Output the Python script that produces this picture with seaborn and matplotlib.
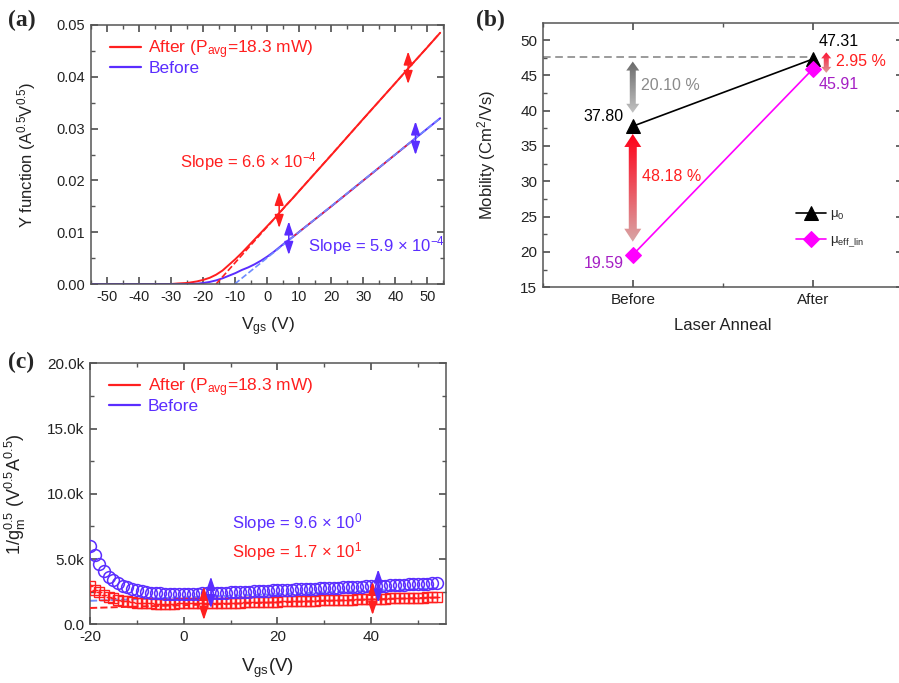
import matplotlib
matplotlib.use("Agg")
import numpy as np
import pandas as pd
import matplotlib.pyplot as plt
import seaborn as sns
from matplotlib.patches import Polygon
from matplotlib.lines import Line2D
from matplotlib.colors import to_rgba
from matplotlib.ticker import MultipleLocator

# ---------------- data: panel (a) Y-function ----------------
vgs_a = [-55, -50, -45, -40, -35, -30, -28, -25, -22, -20, -18, -16, -14, -12, -10,
         -8, -6, -4, -2, 0, 2, 4, 6, 8, 10, 20, 30, 40, 45, 50, 54]
yf_after = [0, 0, 0, 0, 0, 0, 0.0001, 0.0002, 0.0005, 0.0008, 0.0012, 0.0018, 0.0026,
            0.0037, 0.0048, 0.0060, 0.0073, 0.0086, 0.0099, 0.0112, 0.0125, 0.0139,
            0.0153, 0.0166, 0.0180, 0.0249, 0.0319, 0.0388, 0.0423, 0.0457, 0.0485]
yf_before = [0, 0, 0, 0, 0, 0, 0, 0, 0.00005, 0.0002, 0.0004, 0.0007, 0.0011, 0.0016,
             0.0021, 0.0027, 0.0032, 0.0038, 0.0045, 0.0053, 0.0062, 0.0072, 0.0082,
             0.0091, 0.0101, 0.0150, 0.0200, 0.0250, 0.0275, 0.0300, 0.0320]
fit_x_after = [-16, 54]
fit_y_after = [0.0, 0.0485]
fit_x_before = [-10.2, 54]
fit_y_before = [0.0, 0.0320]
slope_after_a = "Slope = 6.6 × 10$^{-4}$"
slope_before_a = "Slope = 5.9 × 10$^{-4}$"

# ---------------- data: panel (b) mobility ----------------
anneal = ["Before", "After"]
mu0 = [37.80, 47.31]
mu_eff = [19.59, 45.91]
pct_labels = ["20.10 %", "48.18 %", "2.95 %"]

# ---------------- data: panel (c) 1/gm^0.5 ----------------
vgs_c = list(range(-20, 55))
gm_before = [6000, 5300, 4600, 4050, 3650, 3380, 3150, 2970, 2820, 2700, 2600, 2520, 2460,
             2420, 2390, 2370, 2350, 2340, 2330, 2330, 2330, 2340, 2350, 2360, 2370, 2380,
             2390, 2400, 2420, 2430, 2450, 2460, 2480, 2490, 2510, 2520, 2540, 2560, 2580,
             2600, 2620, 2630, 2650, 2660, 2680, 2690, 2710, 2720, 2740, 2750, 2770, 2780,
             2800, 2810, 2830, 2840, 2860, 2870, 2890, 2900, 2920, 2940, 2960, 2970, 2990,
             3010, 3030, 3040, 3060, 3080, 3090, 3110, 3120, 3130, 3140]
gm_after = [2900, 2650, 2450, 2280, 2130, 2000, 1900, 1820, 1750, 1700, 1660, 1630, 1610,
            1600, 1590, 1590, 1590, 1590, 1590, 1595, 1600, 1605, 1610, 1615, 1620, 1625,
            1630, 1640, 1645, 1650, 1660, 1665, 1670, 1680, 1690, 1700, 1705, 1715, 1720,
            1730, 1740, 1750, 1760, 1770, 1780, 1790, 1800, 1810, 1820, 1830, 1840, 1850,
            1860, 1870, 1880, 1890, 1900, 1910, 1920, 1930, 1940, 1950, 1960, 1970, 1980,
            1990, 2000, 2010, 2020, 2030, 2040, 2050, 2055, 2060, 2070]
fitc_x = [-20, 54]
fitc_after = [1250, 2050]
fitc_before = [1800, 2750]
slope_before_c = "Slope = 9.6 × 10$^{0}$"
slope_after_c = "Slope = 1.7 × 10$^{1}$"
c_yticks = [0, 5000, 10000, 15000, 20000]
c_yticklabels = ["0.0", "5.0k", "10.0k", "15.0k", "20.0k"]

legend_labels = ["After (P$_{avg}$=18.3 mW)", "Before"]

# ---------------- style ----------------
RED = "#ff1f1f"
BLUE = "#5a2dff"
LBLUE = "#6f8cff"
MAG = "#ff00ff"
PURP = "#a51fc4"

sns.set_theme(style="ticks")
plt.rcParams.update({
    "font.family": ["Liberation Sans", "DejaVu Sans"],
    "mathtext.fontset": "custom",
    "mathtext.rm": "Liberation Sans",
    "mathtext.it": "Liberation Sans:italic",
    "mathtext.bf": "Liberation Sans:bold",
    "mathtext.default": "regular",
    "axes.unicode_minus": False,
    "axes.edgecolor": "#555555",
    "axes.linewidth": 1.1,
    "xtick.direction": "in", "ytick.direction": "in",
    "xtick.top": True, "ytick.right": True,
    "xtick.color": "#555555", "ytick.color": "#555555",
    "xtick.labelcolor": "#222222", "ytick.labelcolor": "#222222",
    "xtick.major.size": 5, "ytick.major.size": 5,
    "xtick.minor.size": 3, "ytick.minor.size": 3,
    "xtick.minor.visible": True, "ytick.minor.visible": True,
    "xtick.major.pad": 4, "ytick.major.pad": 4,
    "xtick.labelsize": 10.5, "ytick.labelsize": 10.5,
    "axes.labelcolor": "#222222",
    "axes.facecolor": "white", "figure.facecolor": "white",
})

W, H = 899, 683
fig = plt.figure(figsize=(W / 100, H / 100), dpi=100)


def box(l, r, t, b):
    return [l / W, 1 - b / H, (r - l) / W, (b - t) / H]


axa = fig.add_axes(box(91, 444, 25, 284))
axb = fig.add_axes(box(542.7, 903, 22.7, 287.3))
axc = fig.add_axes(box(90, 445.7, 363.3, 624.3))


def dbl_arrow(ax, x, y0, y1, color):
    ax.annotate("", xy=(x, y1), xytext=(x, y0),
                arrowprops=dict(arrowstyle="<|-|>,head_length=0.5,head_width=0.17",
                                color=color, lw=1.1, mutation_scale=16,
                                shrinkA=0, shrinkB=0), zorder=6)


def grad_arrow(ax, x, y_top, y_bot, c_top, c_bot, shaft, head, hlen, z=3):
    T = ax.transData
    px, pt = T.transform((x, y_top))
    _, pb = T.transform((x, y_bot))
    vpx = [(px, pt), (px + head, pt - hlen), (px + shaft, pt - hlen), (px + shaft, pb + hlen),
           (px + head, pb + hlen), (px, pb), (px - head, pb + hlen), (px - shaft, pb + hlen),
           (px - shaft, pt - hlen), (px - head, pt - hlen)]
    verts = T.inverted().transform(vpx)
    poly = Polygon(verts, closed=True, facecolor="none", edgecolor="none",
                   transform=ax.transData)
    ax.add_patch(poly)
    t = np.linspace(0, 1, 256)[:, None]
    c0 = np.array(to_rgba(c_top))
    c1 = np.array(to_rgba(c_bot))
    img = (c0 * (1 - t) + c1 * t)[:, None, :]
    x0 = T.inverted().transform((px - head - 1, pt))[0]
    x1 = T.inverted().transform((px + head + 1, pt))[0]
    im = ax.imshow(img, extent=(x0, x1, y_bot, y_top), origin="upper", aspect="auto",
                   zorder=z, interpolation="bilinear")
    im.set_clip_path(poly)


def legend_rb(ax):
    handles = [Line2D([], [], color=RED, lw=1.6), Line2D([], [], color=BLUE, lw=1.6)]
    ax.legend(handles, legend_labels, loc="upper left", bbox_to_anchor=(0.025, 0.99),
              frameon=False, fontsize=12.5, labelcolor=[RED, BLUE], handlelength=1.75,
              handletextpad=0.45, labelspacing=0.0, borderaxespad=0.2)


# ---------------- panel (a) ----------------
sns.lineplot(x=vgs_a, y=yf_after, ax=axa, color=RED, linewidth=1.4, sort=False, estimator=None)
sns.lineplot(x=vgs_a, y=yf_before, ax=axa, color=BLUE, linewidth=1.4, sort=False, estimator=None)
sel = [i for i, v in enumerate(vgs_a) if 8 <= v <= 45]
sns.lineplot(x=[vgs_a[i] for i in sel], y=[yf_before[i] for i in sel], ax=axa, color=RED,
             linewidth=1.0, sort=False, estimator=None)
sns.lineplot(x=fit_x_after, y=fit_y_after, ax=axa, color=RED, linewidth=1.2, linestyle="--")
sns.lineplot(x=fit_x_before, y=fit_y_before, ax=axa, color=LBLUE, linewidth=1.2, linestyle="--")
axa.set_xlim(-55.1, 55.2)
axa.set_ylim(0, 0.05)
axa.set_xticks(range(-50, 51, 10))
axa.set_yticks([0, 0.01, 0.02, 0.03, 0.04, 0.05])
axa.set_yticklabels(["0.00", "0.01", "0.02", "0.03", "0.04", "0.05"])
axa.xaxis.set_minor_locator(MultipleLocator(5))
axa.yaxis.set_minor_locator(MultipleLocator(0.005))
for x, y0, y1, c in [(3.7, 0.0108, 0.0178, RED), (44, 0.0386, 0.0449, RED),
                     (6.7, 0.0056, 0.0121, BLUE), (46.3, 0.0249, 0.0314, BLUE)]:
    dbl_arrow(axa, x, y0, y1, c)
axa.text(-27.3, 0.0236, slope_after_a, color=RED, fontsize=12, va="center")
axa.text(12.8, 0.0074, slope_before_a, color=BLUE, fontsize=12, va="center")
axa.set_ylabel("Y function (A$^{0.5}$V$^{0.5}$)", fontsize=12)
axa.set_xlabel("V$_{gs}$ (V)", fontsize=12.5)
axa.yaxis.set_label_coords(-0.150, 0.5)
axa.xaxis.set_label_coords(0.5, -0.12)
legend_rb(axa)

# ---------------- panel (b) ----------------
xb = list(range(len(anneal)))
sns.lineplot(x=xb, y=mu0, ax=axb, color="black", linewidth=1.2, marker="^", markersize=10,
             markeredgecolor="black", sort=False, estimator=None, label="μ$_0$", zorder=5)
sns.lineplot(x=xb, y=mu_eff, ax=axb, color=MAG, linewidth=1.2, marker="D", markersize=8,
             markeredgecolor=MAG, sort=False, estimator=None, label="μ$_{eff\\_lin}$", zorder=5)
axb.set_xlim(-0.5, 1.5)
axb.set_ylim(15, 52.45)
axb.hlines(47.55, -0.5, 1, colors="#808080", linestyles=(0, (5, 3)), linewidth=1.1, zorder=2)
axb.set_xticks(xb)
axb.set_xticklabels(anneal, fontsize=11)
axb.xaxis.set_minor_locator(MultipleLocator(0.5))
axb.set_yticks(range(15, 51, 5))
axb.tick_params(axis="y", labelsize=11)
axb.yaxis.set_minor_locator(MultipleLocator(2.5))
grad_arrow(axb, 0, 46.95, 39.7, "#6a6a6a", "#c2c2c2", 3, 6.5, 9)
grad_arrow(axb, 0, 36.7, 21.45, "#ff0018", "#d8a6a6", 4, 8.5, 13)
grad_arrow(axb, 1.074, 48.25, 45.35, "#ff1030", "#dd9a9a", 2.5, 5, 6)
axb.set_xlim(-0.5, 1.5)
axb.set_ylim(15, 52.45)
axb.text(-0.05, 39.2, f"{mu0[0]:.2f}", ha="right", va="center", fontsize=11.5, color="black")
axb.text(1.03, 49.75, f"{mu0[1]:.2f}", ha="left", va="center", fontsize=11.5, color="black")
axb.text(-0.05, 18.4, f"{mu_eff[0]:.2f}", ha="right", va="center", fontsize=11.5, color=PURP)
axb.text(1.03, 43.7, f"{mu_eff[1]:.2f}", ha="left", va="center", fontsize=11.5, color=PURP)
axb.text(0.046, 43.5, pct_labels[0], ha="left", va="center", fontsize=11.5, color="#8a8a8a")
axb.text(0.05, 30.7, pct_labels[1], ha="left", va="center", fontsize=11.5, color=RED)
axb.text(1.13, 46.9, pct_labels[2], ha="left", va="center", fontsize=11.5, color=RED)
axb.set_ylabel("Mobility (Cm$^2$/Vs)", fontsize=12)
axb.set_xlabel("Laser Anneal", fontsize=12)
axb.yaxis.set_label_coords(-0.124, 0.5)
axb.xaxis.set_label_coords(0.5, -0.115)
axb.legend(loc="upper left", bbox_to_anchor=(0.68, 0.33), frameon=False, fontsize=9.5,
           handlelength=2.3, handletextpad=0.3, labelspacing=0.9, borderaxespad=0.2)

# ---------------- panel (c) ----------------
sns.lineplot(x=vgs_c, y=gm_after, ax=axc, color=RED, linestyle="", marker="s", markersize=6.5,
             markerfacecolor="none", markeredgecolor=RED, markeredgewidth=1.0,
             sort=False, estimator=None, zorder=3)
sns.lineplot(x=vgs_c, y=gm_after, ax=axc, color=RED, linestyle="", marker="+", markersize=5,
             markeredgecolor=RED, markeredgewidth=1.0, sort=False, estimator=None, zorder=3)
sns.lineplot(x=vgs_c, y=gm_before, ax=axc, color=BLUE, linestyle="", marker="o", markersize=8.5,
             markerfacecolor="none", markeredgecolor=BLUE, markeredgewidth=1.1,
             sort=False, estimator=None, zorder=4)
sns.lineplot(x=fitc_x, y=fitc_after, ax=axc, color=RED, linewidth=1.4, linestyle="--", zorder=5)
sns.lineplot(x=fitc_x, y=fitc_before, ax=axc, color=LBLUE, linewidth=1.4, linestyle="--", zorder=2)
axc.set_xlim(-20, 55.9)
axc.set_ylim(0, 20000)
axc.set_xticks([-20, 0, 20, 40])
axc.xaxis.set_minor_locator(MultipleLocator(10))
axc.set_yticks(c_yticks)
axc.set_yticklabels(c_yticklabels)
axc.yaxis.set_minor_locator(MultipleLocator(2500))
axc.tick_params(labelsize=11)
for x, y0, y1, c in [(4.3, 330, 2880, RED), (5.8, 1230, 3650, BLUE),
                     (40.3, 710, 3260, RED), (41.5, 1660, 4210, BLUE)]:
    dbl_arrow(axc, x, y0, y1, c)
axc.text(10.4, 7820, slope_before_c, color=BLUE, fontsize=12, va="center")
axc.text(10.4, 5560, slope_after_c, color=RED, fontsize=12, va="center")
axc.set_ylabel("1/g$_m^{0.5}$ (V$^{0.5}$A$^{0.5}$)", fontsize=13)
axc.set_xlabel("V$_{gs}$(V)", fontsize=13.5)
axc.yaxis.set_label_coords(-0.175, 0.5)
axc.xaxis.set_label_coords(0.5, -0.125)
legend_rb(axc)

# panel letters
for xp, yp, s in [(8, 20, "(a)"), (476, 20, "(b)"), (8, 362, "(c)")]:
    fig.text(xp / W, 1 - yp / H, s, fontfamily="Liberation Serif", fontweight="bold",
             fontsize=17, va="center", ha="left")

fig.savefig("out.png", dpi=100)
